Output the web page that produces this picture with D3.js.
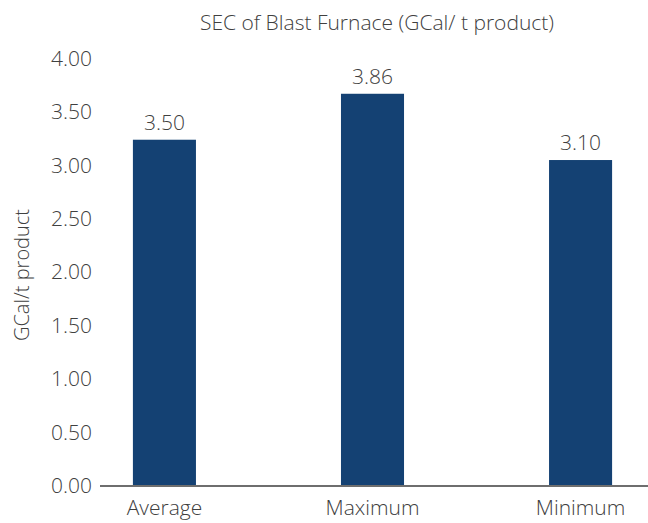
<!DOCTYPE html>
<html>
<head>
<meta charset="utf-8">
<script src="https://cdn.jsdelivr.net/npm/d3@7"></script>
<style>
  body { margin: 0; background: #fff; }
  text { font-family: "Open Sans", sans-serif; font-weight: 300; fill: #404040; }
</style>
</head>
<body>
<svg id="chart" width="648" height="523"></svg>
<script>
// data
const categories = ['Average', 'Maximum', 'Minimum'];
const barValues = [3.24, 3.67, 3.05];          // bar heights as drawn
const valueLabels = ['3.50', '3.86', '3.10'];   // printed labels
const yTicks = [0, 0.5, 1, 1.5, 2, 2.5, 3, 3.5, 4];

const svg = d3.select('#chart');

const x = d3.scaleBand()
    .domain(categories)
    .range([60.5, 684.5])
    .paddingInner(0.697)
    .paddingOuter(0.348);

const y = d3.scaleLinear()
    .domain([0, 4])
    .range([486, 58.5]);

// title
svg.append('text')
    .attr('x', 377)
    .attr('y', 30)
    .attr('text-anchor', 'middle')
    .style('font-size', '21px')
    .text('SEC of Blast Furnace (GCal/ t product)');

// y axis (labels only)
const yAxis = svg.append('g')
    .attr('transform', 'translate(92,0)')
    .call(d3.axisLeft(y).tickValues(yTicks).tickFormat(d3.format('.2f')).tickSize(0).tickPadding(0));
yAxis.select('.domain').remove();
yAxis.selectAll('text')
    .style('font-size', '21px')
    .style('fill', '#404040')
    .style('font-family', '"Open Sans", sans-serif');

// y label
svg.append('text')
    .attr('transform', 'translate(29,275) rotate(-90)')
    .attr('text-anchor', 'middle')
    .style('font-size', '20px')
    .text('GCal/t product');

// bars
svg.selectAll('rect.bar')
    .data(categories)
    .enter().append('rect')
    .attr('class', 'bar')
    .attr('x', d => x(d))
    .attr('width', x.bandwidth())
    .attr('y', (d, i) => y(barValues[i]))
    .attr('height', (d, i) => y(0) - y(barValues[i]))
    .attr('fill', '#144173');

// value labels
svg.selectAll('text.val')
    .data(categories)
    .enter().append('text')
    .attr('class', 'val')
    .attr('x', d => x(d) + x.bandwidth() / 2)
    .attr('y', (d, i) => y(barValues[i]) - 10)
    .attr('text-anchor', 'middle')
    .style('font-size', '21px')
    .text((d, i) => valueLabels[i]);

// baseline
svg.append('line')
    .attr('x1', 100).attr('x2', 648)
    .attr('y1', y(0)).attr('y2', y(0))
    .attr('stroke', '#6e6e6e')
    .attr('stroke-width', 2);

// x labels
const xAxis = svg.append('g')
    .attr('transform', `translate(0,${y(0)})`)
    .call(d3.axisBottom(x).tickSize(0).tickPadding(14));
xAxis.select('.domain').remove();
xAxis.selectAll('text')
    .style('font-size', '21px')
    .style('fill', '#404040')
    .style('font-family', '"Open Sans", sans-serif');
</script>
</body>
</html>
